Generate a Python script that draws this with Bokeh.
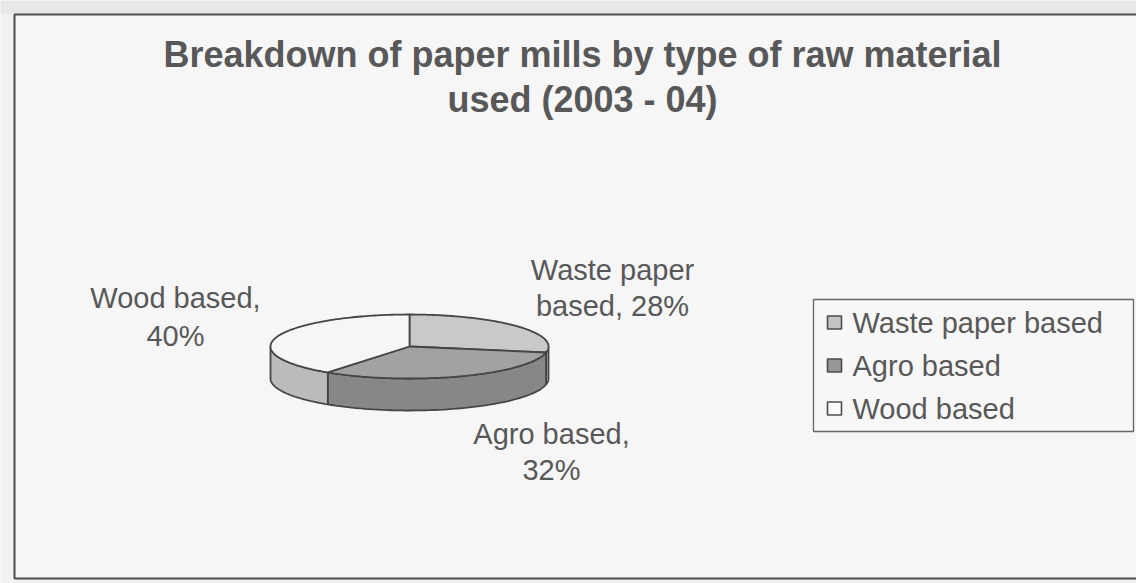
import math
from bokeh.plotting import figure
from bokeh.models import Range1d, ColumnDataSource
from bokeh.core.properties import value
from bokeh.embed import file_html
from bokeh.resources import INLINE

# ---- data ----
categories = ["Waste paper based", "Agro based", "Wood based"]
shares = [28, 32, 40]
label_lines = [["Waste paper", "based, 28%"], ["Agro based,", "32%"], ["Wood based,", "40%"]]
title_lines = ["Breakdown of paper mills by type of raw material", "used (2003 - 04)"]

# ---- style ----
top_colors = ["#c9c9c9", "#a2a2a2", "#f6f6f6"]
side_colors = ["#b0b0b0", "#878787", "#bbbbbb"]
legend_colors = ["#c4c4c4", "#979797", "#fafafa"]
edge = "#454545"
txt = "#585858"
FONT = "Liberation Sans"

W, H = 1136, 583
p = figure(width=W, height=H, output_backend="svg", toolbar_location=None,
           x_range=Range1d(0, W), y_range=Range1d(H, 0), min_border=0)
p.axis.visible = False
p.grid.visible = False
p.outline_line_color = None
p.background_fill_color = "#f1f1f1"
p.border_fill_color = "#e9e9e9"

# page frame
p.quad(left=[0], right=[W], top=[0], bottom=[13], fill_color="#e7e7e7", line_color=None)
p.quad(left=[14], right=[W + 10], top=[14], bottom=[578], fill_color="#f6f6f6",
       line_color="#4c4c4c", line_width=2)

# pie geometry
cx, cy, rx, ry, depth = 409, 346, 139, 32, 32

def pt(t):
    return cx + rx * math.sin(t), cy - ry * math.cos(t)

total = sum(shares)
angles = []
acc = 0.0
for s in shares:
    a0 = acc / total * 2 * math.pi
    acc += s
    a1 = acc / total * 2 * math.pi
    angles.append((a0, a1))

# sides (front half only)
side_xs, side_ys, side_fc = [], [], []
for (a0, a1), c in zip(angles, side_colors):
    lo, hi = max(a0, math.pi / 2), min(a1, 3 * math.pi / 2)
    if hi <= lo:
        continue
    n = 60
    ts = [lo + (hi - lo) * i / n for i in range(n + 1)]
    top = [pt(t) for t in ts]
    xs = [q[0] for q in top] + [q[0] for q in reversed(top)]
    ys = [q[1] for q in top] + [q[1] + depth for q in reversed(top)]
    side_xs.append(xs); side_ys.append(ys); side_fc.append(c)
p.patches(xs="xs", ys="ys", fill_color="fc", line_color=edge, line_width=1.8,
          source=ColumnDataSource(dict(xs=side_xs, ys=side_ys, fc=side_fc)))

# top faces
top_xs, top_ys = [], []
for (a0, a1) in angles:
    n = 120
    ts = [a0 + (a1 - a0) * i / n for i in range(n + 1)]
    pts = [pt(t) for t in ts]
    top_xs.append([cx] + [q[0] for q in pts])
    top_ys.append([cy] + [q[1] for q in pts])
p.patches(xs="xs", ys="ys", fill_color="fc", line_color=edge, line_width=1.8,
          source=ColumnDataSource(dict(xs=top_xs, ys=top_ys, fc=top_colors)))

# data labels
label_pos = [(612, 269), (551, 433), (175, 297)]
label_gap = [36, 36, 38]
lx, ly, lt = [], [], []
for (x, y), g, lines in zip(label_pos, label_gap, label_lines):
    for i, s in enumerate(lines):
        lx.append(x); ly.append(y + i * g); lt.append(s)
p.text(x=lx, y=ly, text=lt, text_font=value(FONT), text_font_size="29px",
       text_color=txt, text_align="center", text_baseline="middle")

# title
p.text(x=[582, 582], y=[54, 99], text=title_lines, text_font=value(FONT),
       text_font_size="36px", text_font_style="bold", text_color=txt,
       text_align="center", text_baseline="middle")

# legend
p.quad(left=[813], right=[1133], top=[299], bottom=[431], fill_color="#f7f7f7",
       line_color="#666666", line_width=1.3)
ly0 = [322 + i * 43 for i in range(len(categories))]
p.rect(x=[834] * len(categories), y=ly0, width=14, height=13, fill_color=legend_colors,
       line_color="#4c4c4c", line_width=1.6)
p.text(x=[852] * len(categories), y=ly0, text=categories, text_font=value(FONT),
       text_font_size="29px", text_color=txt, text_align="left", text_baseline="middle")

open("out.html", "w").write(file_html(p, INLINE))
